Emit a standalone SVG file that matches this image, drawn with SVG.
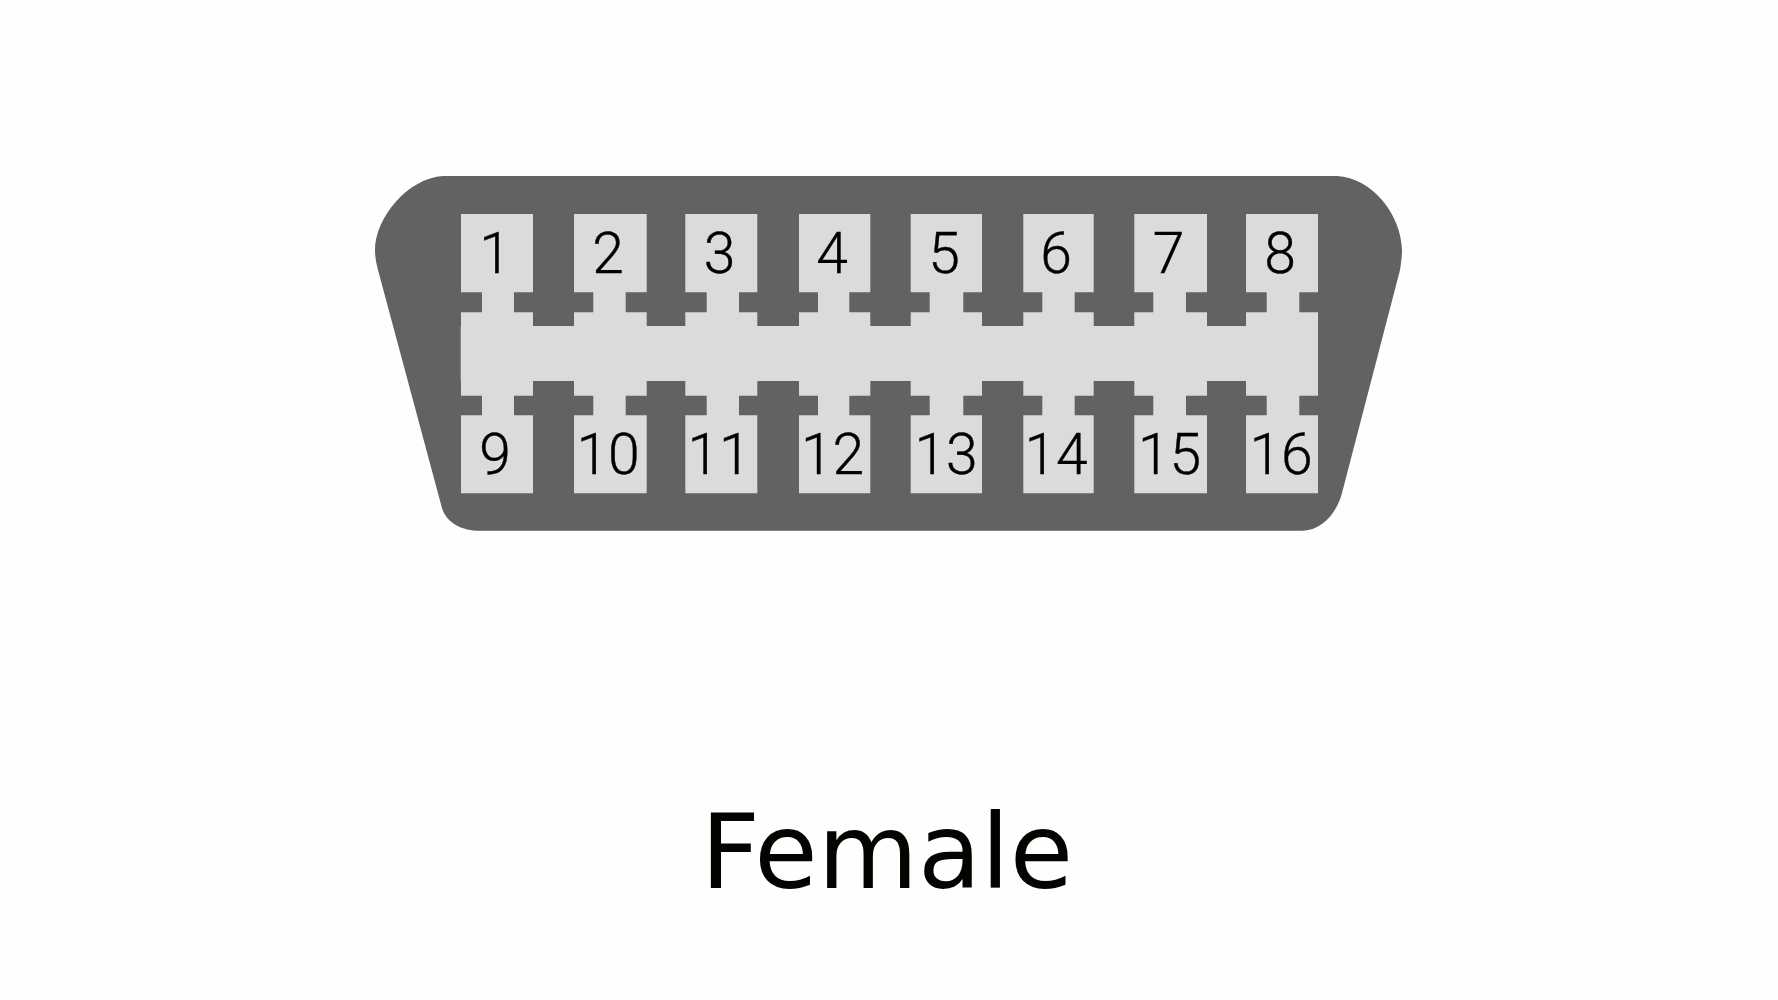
<svg xmlns="http://www.w3.org/2000/svg" width="1778" height="1000" viewBox="0 0 1778 1000">
<style>
.c{fill:#dcdadb}
.n{font-family:"Roboto","Liberation Sans",Arial,sans-serif;font-size:57px;font-weight:300;fill:#000;stroke:#000;stroke-width:.4px;text-anchor:middle}
.t{font-family:"DejaVu Sans",sans-serif;font-size:103px;fill:#030400}
</style>
<rect width="1778" height="1000" fill="#fefefe"/>
<g id="connector-body">
<path fill="#636162" d="M443,176 L1337,176 C1372,178 1401,214 1402,250 C1402,256 1401,264 1400,270 L1342,493 C1337,512 1323,530 1303,530.7 L477,530.7 C458,530 445,520 441.7,507 L378,270 C376,262 375,256 375,250 C375,218 408,178 443,176 Z"/>
<rect class="c" x="460.7" y="326" width="857.3" height="55" />
</g>
<g id="pin-1"><path class="c" d="M461,214H533V292.3H514V312.3H533V327H461V312.3H482V292.3H461Z"/><text class="n" x="495" y="273">1</text></g>
<g id="pin-2"><path class="c" d="M574,214H646.7V292.3H625.7V312.3H646.7V327H574V312.3H593.3V292.3H574Z"/><text class="n" x="608" y="273">2</text></g>
<g id="pin-3"><path class="c" d="M685.3,214H757.3V292.3H739V312.3H757.3V327H685.3V312.3H706.7V292.3H685.3Z"/><text class="n" x="719.5" y="273">3</text></g>
<g id="pin-4"><path class="c" d="M799,214H870.3V292.3H849.3V312.3H870.3V327H799V312.3H818V292.3H799Z"/><text class="n" x="832" y="273">4</text></g>
<g id="pin-5"><path class="c" d="M910.7,214H982V292.3H963.3V312.3H982V327H910.7V312.3H929.7V292.3H910.7Z"/><text class="n" x="944" y="273">5</text></g>
<g id="pin-6"><path class="c" d="M1023.3,214H1093.7V292.3H1074.7V312.3H1093.7V327H1023.3V312.3H1042.3V292.3H1023.3Z"/><text class="n" x="1056" y="273">6</text></g>
<g id="pin-7"><path class="c" d="M1134.3,214H1207V292.3H1186V312.3H1207V327H1134.3V312.3H1153.3V292.3H1134.3Z"/><text class="n" x="1168.5" y="273">7</text></g>
<g id="pin-8"><path class="c" d="M1246,214H1318V292.3H1299.3V312.3H1318V327H1246V312.3H1266.7V292.3H1246Z"/><text class="n" x="1280" y="273">8</text></g>
<g id="pin-9"><path class="c" d="M461,380H533V395.7H514V415.3H533V493.3H461V415.3H482V395.7H461Z"/><text class="n" x="495" y="474">9</text></g>
<g id="pin-10"><path class="c" d="M574,380H646.7V395.7H625.7V415.3H646.7V493.3H574V415.3H593.3V395.7H574Z"/><text class="n" x="608" y="474">10</text></g>
<g id="pin-11"><path class="c" d="M685.3,380H757.3V395.7H739V415.3H757.3V493.3H685.3V415.3H706.7V395.7H685.3Z"/><text class="n" x="719" y="474">11</text></g>
<g id="pin-12"><path class="c" d="M799,380H870.3V395.7H849.3V415.3H870.3V493.3H799V415.3H818V395.7H799Z"/><text class="n" x="832.5" y="474">12</text></g>
<g id="pin-13"><path class="c" d="M910.7,380H982V395.7H963.3V415.3H982V493.3H910.7V415.3H929.7V395.7H910.7Z"/><text class="n" x="946" y="474">13</text></g>
<g id="pin-14"><path class="c" d="M1023.3,380H1093.7V395.7H1074.7V415.3H1093.7V493.3H1023.3V415.3H1042.3V395.7H1023.3Z"/><text class="n" x="1056" y="474">14</text></g>
<g id="pin-15"><path class="c" d="M1134.3,380H1207V395.7H1186V415.3H1207V493.3H1134.3V415.3H1153.3V395.7H1134.3Z"/><text class="n" x="1169.5" y="474">15</text></g>
<g id="pin-16"><path class="c" d="M1246,380H1318V395.7H1299.3V415.3H1318V493.3H1246V415.3H1266.7V395.7H1246Z"/><text class="n" x="1281" y="474">16</text></g>
<g id="connectors"/>
<text class="t" x="700.7" y="888.3">Female</text>
</svg>
